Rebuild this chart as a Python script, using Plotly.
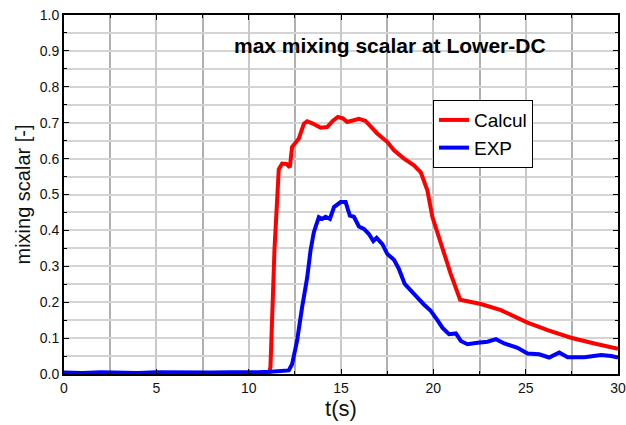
import plotly.graph_objects as go

# Calcul (red)
calc_t = [0, 5, 10, 11.1, 11.18, 11.4, 11.63, 11.81, 12.05, 12.23, 12.35, 12.71, 12.99, 13.17, 13.5, 13.89,
          14.25, 14.55, 14.83, 15.1, 15.34, 15.65, 15.97, 16.33, 16.96, 17.51, 17.87, 18.41, 18.95,
          19.32, 19.68, 19.95, 20.40, 20.94, 21.45, 22.57, 23.66, 25.1, 26.19, 27.45, 28.72, 30.0]
calc_v = [0.0, 0.0, 0.0, 0.0, 0.02, 0.35, 0.570, 0.586, 0.585, 0.576, 0.632, 0.655, 0.697, 0.704, 0.697, 0.686,
          0.688, 0.705, 0.716, 0.712, 0.702, 0.706, 0.711, 0.705, 0.670, 0.646, 0.623, 0.600, 0.581,
          0.562, 0.511, 0.437, 0.362, 0.279, 0.207, 0.195, 0.178, 0.143, 0.122, 0.101, 0.085, 0.070]

# EXP (blue)
exp_t = [0, 1, 2, 3, 4, 5, 6, 7, 8, 9, 10, 10.5, 11.18, 11.7, 12.17, 12.35, 12.62, 12.89, 13.17, 13.35, 13.53,
         13.8, 13.98, 14.16, 14.4, 14.62, 14.98, 15.25, 15.48, 15.7, 15.97, 16.24, 16.51, 16.75,
         16.93, 17.24, 17.51, 17.87, 18.14, 18.45, 18.77, 19.14, 19.5, 19.86, 20.22, 20.49, 20.85,
         21.22, 21.49, 21.85, 22.39, 22.93, 23.39, 23.84, 24.56, 25.1, 25.73, 26.27, 26.82, 27.27,
         28.18, 29.08, 29.63, 30.0]
exp_v = [0.004, 0.003, 0.005, 0.004, 0.003, 0.005, 0.004, 0.005, 0.004, 0.005, 0.004, 0.005, 0.006, 0.009, 0.010, 0.027, 0.092, 0.185, 0.269, 0.344, 0.395,
         0.437, 0.432, 0.438, 0.432, 0.465, 0.479, 0.479, 0.441, 0.438, 0.411, 0.404, 0.390, 0.370,
         0.379, 0.362, 0.334, 0.318, 0.292, 0.251, 0.232, 0.213, 0.193, 0.176, 0.150, 0.129, 0.111,
         0.113, 0.092, 0.083, 0.087, 0.090, 0.097, 0.085, 0.073, 0.057, 0.055, 0.046, 0.060, 0.047,
         0.047, 0.053, 0.050, 0.046]

x_ticks = [0, 5, 10, 15, 20, 25, 30]
y_ticks = [0.0, 0.1, 0.2, 0.3, 0.4, 0.5, 0.6, 0.7, 0.8, 0.9, 1.0]

fig = go.Figure()
fig.add_trace(go.Scatter(x=calc_t, y=calc_v, mode="lines", name="Calcul",
                         line=dict(color="#ff0000", width=4)))
fig.add_trace(go.Scatter(x=exp_t, y=exp_v, mode="lines", name="EXP",
                         line=dict(color="#0000ff", width=4)))

fig.update_layout(
    width=626, height=425,
    margin=dict(l=64, r=8, t=15, b=51),
    plot_bgcolor="white", paper_bgcolor="white",
    font=dict(family="Arial, Liberation Sans", color="#111"),
    showlegend=True,
    legend=dict(x=0.666, y=0.763, xanchor="left", yanchor="top",
                bgcolor="white", bordercolor="black", borderwidth=1,
                font=dict(size=19, color="black"), tracegroupgap=0,
                itemwidth=30),
    xaxis=dict(range=[0, 30], tickvals=x_ticks, ticktext=[str(v) for v in x_ticks],
               automargin=False,
               showgrid=True, gridcolor="#c8c8c8", gridwidth=1.5,
               ticks="inside", ticklen=5, tickcolor="black",
               showline=True, linecolor="black", linewidth=2, mirror="ticks",
               zeroline=False,
               tickfont=dict(size=14, color="#111"),
               minor=dict(dtick=2.5, showgrid=True, gridcolor="#b0b0b0", gridwidth=1.5,
                          ticks="inside", ticklen=3, tickcolor="black"),
               title=dict(text="t(s)", font=dict(size=22, color="#111"), standoff=4)),
    yaxis=dict(range=[0, 1.0], tickvals=y_ticks, ticktext=[f"{v:.1f}" for v in y_ticks],
               automargin=False,
               showgrid=True, gridcolor="#d4d4d4", gridwidth=1.5,
               ticks="inside", ticklen=5, tickcolor="black",
               showline=True, linecolor="black", linewidth=2, mirror="ticks",
               zeroline=False,
               tickfont=dict(size=14, color="#111"),
               minor=dict(dtick=0.05, showgrid=True, gridcolor="#d4d4d4", gridwidth=1.5,
                          ticks="inside", ticklen=3, tickcolor="black"),
               title=dict(text="mixing scalar [-]", font=dict(size=20, color="#111"), standoff=4)),
    annotations=[dict(text="<b>max mixing scalar at Lower-DC</b>", x=0.588, y=0.916,
                      xref="paper", yref="paper", xanchor="center", yanchor="middle",
                      showarrow=False, font=dict(size=21, color="black"))],
)

fig.write_html("out.html")
